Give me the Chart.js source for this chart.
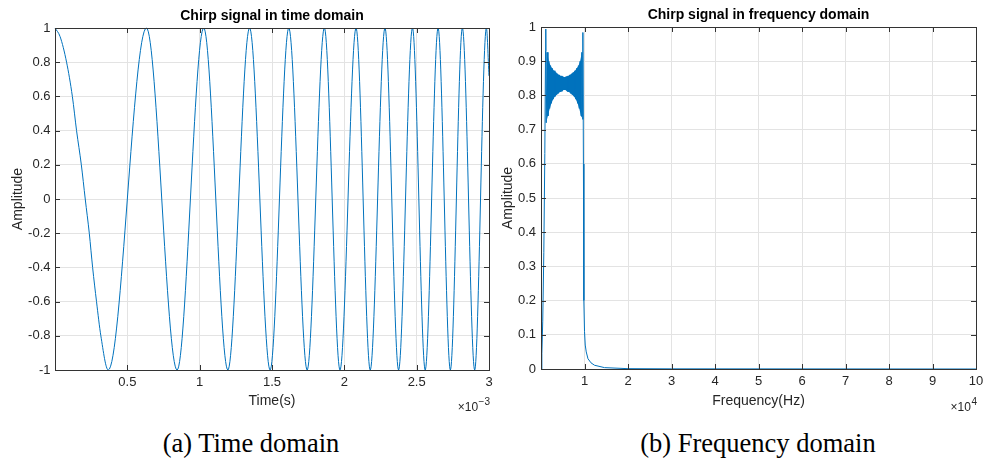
<!DOCTYPE html>
<html>
<head>
<meta charset="utf-8">
<script src="https://cdn.jsdelivr.net/npm/chart.js@4.4.0/dist/chart.umd.min.js"></script>
<style>
  html, body { margin: 0; padding: 0; background: #fff; }
  body { width: 987px; height: 460px; position: relative; overflow: hidden; }
  canvas { position: absolute; top: 0; }
  #timeChart { left: 0; }
  #freqChart { left: 493px; }
  .caption {
    position: absolute; top: 431px; line-height: 25px;
    font-family: 'Liberation Serif', 'Times New Roman', serif; font-size: 26.5px;
    color: #000; white-space: nowrap; transform: translateX(-50%);
  }
</style>
</head>
<body>
<canvas id="timeChart" width="493" height="420"></canvas>
<canvas id="freqChart" width="494" height="420"></canvas>
<div class="caption" style="left:251px">(a) Time domain</div>
<div class="caption" style="left:758px">(b) Frequency domain</div>
<script>
// time domain: first half cycle plus every max/min (time in ms)
const timeMs = [0, 0.035, 0.08, 0.12, 0.149, 0.182, 0.209, 0.237, 0.26, 0.287, 0.317, 0.368,
    0.632, 0.844, 1.028, 1.195, 1.345, 1.487, 1.616, 1.743, 1.862, 1.970, 2.081, 2.179,
    2.281, 2.375, 2.471, 2.559, 2.648, 2.733, 2.816, 2.901, 2.982, 3.0];
const timeAmp = [1, 0.95, 0.8, 0.6, 0.4, 0.2, 0, -0.2, -0.4, -0.6, -0.8, -1,
    1, -1, 1, -1, 1, -1, 1, -1, 1, -1, 1, -1,
    1, -1, 1, -1, 1, -1, 1, -1, 1, 0.72];

// frequency domain, frequency in units of 1e4 Hz
const riseFreq = [0, 0.02, 0.04, 0.065, 0.088, 0.104, 0.11];
const riseAmp = [0, 0.045, 0.14, 0.34, 0.63, 0.93, 0.994];
// the ripple band, alternating lower / upper envelope
const bandFreq = [0.12, 0.14, 0.16, 0.18, 0.20, 0.22, 0.24, 0.26, 0.28, 0.30, 0.32, 0.34, 0.36, 0.38,
    0.40, 0.42, 0.44, 0.46, 0.48, 0.50, 0.52, 0.54, 0.56, 0.58, 0.60, 0.62, 0.64, 0.66, 0.68,
    0.70, 0.72, 0.74, 0.76, 0.78, 0.80, 0.82, 0.84, 0.86, 0.88, 0.90, 0.92, 0.94, 0.96];
const bandAmp = [0.72, 0.926, 0.74, 0.90, 0.762, 0.887, 0.777, 0.879, 0.789, 0.872, 0.797, 0.867, 0.802, 0.863,
    0.806, 0.860, 0.810, 0.857, 0.812, 0.855, 0.816, 0.853, 0.816, 0.855, 0.812, 0.857, 0.810, 0.860, 0.806,
    0.863, 0.802, 0.867, 0.797, 0.872, 0.789, 0.879, 0.777, 0.887, 0.762, 0.90, 0.74, 0.926, 0.73];
const fallFreq = [0.963, 0.975, 0.985, 1.0, 1.017, 1.04, 1.08, 1.15, 1.23, 1.46, 2.0, 3.0, 10];
const fallAmp = [0.984, 0.6, 0.2, 0.11, 0.07, 0.05, 0.03, 0.018, 0.011, 0.004, 0.001, 0.0005, 0];

const LINE = '#0072BD';
const TXT = '#262626';
const GRID = '#e3e3e3';
const SANS = "'Liberation Sans', Arial, Helvetica, sans-serif";

Chart.defaults.font.family = SANS;

function fmt(v) {
    const r = Math.round(v * 10) / 10;
    return r === 0 ? '0' : String(r);
}

// box, inward ticks, bold title and the x10^n multiplier, MATLAB style
const matlabAxes = {
    id: 'matlabAxes',
    afterDraw(chart, args, opts) {
        const { ctx, chartArea: a, scales } = chart;
        ctx.save();
        ctx.strokeStyle = '#333';
        ctx.lineWidth = 1;
        ctx.beginPath();
        scales.x.ticks.forEach(t => {
            const px = Math.round(scales.x.getPixelForValue(t.value)) + 0.5;
            ctx.moveTo(px, a.bottom); ctx.lineTo(px, a.bottom - 5);
            ctx.moveTo(px, a.top); ctx.lineTo(px, a.top + 5);
        });
        scales.y.ticks.forEach(t => {
            const py = Math.round(scales.y.getPixelForValue(t.value)) + 0.5;
            ctx.moveTo(a.left, py); ctx.lineTo(a.left + 5, py);
            ctx.moveTo(a.right, py); ctx.lineTo(a.right - 5, py);
        });
        ctx.stroke();
        ctx.strokeRect(Math.round(a.left) + 0.5, Math.round(a.top) + 0.5,
            Math.round(a.width), Math.round(a.height));

        ctx.fillStyle = '#000';
        ctx.font = 'bold 14px ' + SANS;
        ctx.textAlign = 'center';
        ctx.textBaseline = 'middle';
        ctx.fillText(opts.title, (a.left + a.right) / 2, opts.titleY);

        ctx.fillStyle = TXT;
        ctx.textAlign = 'right';
        ctx.textBaseline = 'alphabetic';
        ctx.font = '10px ' + SANS;
        const supW = ctx.measureText(opts.exponent).width;
        ctx.fillText(opts.exponent, a.right + 1, opts.expY - 6);
        ctx.font = '12px ' + SANS;
        ctx.fillText('\u00d710', a.right + 0.5 - supW, opts.expY);
        ctx.restore();
    }
};

function axisFont(size) {
    return { family: SANS, size: size };
}

function noSidePadding(s) {
    s.paddingLeft = 0;
    s.paddingRight = 0;
}

new Chart(document.getElementById('timeChart'), {
    type: 'line',
    data: {
        datasets: [{
            data: timeMs.map((t, i) => ({ x: t, y: timeAmp[i] })),
            borderColor: LINE,
            borderWidth: 1,
            pointRadius: 0,
            cubicInterpolationMode: 'monotone',
            clip: 2
        }]
    },
    options: {
        responsive: false,
        animation: false,
        layout: { padding: { top: 28, right: 4, left: 0, bottom: 0 } },
        plugins: {
            legend: { display: false },
            tooltip: { enabled: false },
            matlabAxes: { title: 'Chirp signal in time domain', titleY: 16.5, exponent: '\u22123', expY: 410.5 }
        },
        scales: {
            x: {
                type: 'linear', min: 0, max: 3,
                afterFit: s => { s.height = 50; noSidePadding(s); },
                ticks: { stepSize: 0.5, padding: 5, color: TXT, font: axisFont(13), maxRotation: 0, autoSkip: false,
                    callback: v => v === 0 ? '' : fmt(v) },
                grid: { color: GRID, drawTicks: false },
                border: { display: false },
                title: { display: true, text: 'Time(s)', color: TXT, font: axisFont(14), padding: { top: 0, bottom: 10 } }
            },
            y: {
                min: -1, max: 1,
                afterFit: s => { s.width = 55; },
                ticks: { stepSize: 0.2, padding: 4.5, color: TXT, font: axisFont(13), callback: v => fmt(v) },
                grid: { color: GRID, drawTicks: false },
                border: { display: false },
                title: { display: true, text: 'Amplitude', color: TXT, font: axisFont(14), padding: { top: 9.4, bottom: 0 } }
            }
        }
    },
    plugins: [matlabAxes]
});

const specFreq = riseFreq.concat(bandFreq, fallFreq);
const specAmp = riseAmp.concat(bandAmp, fallAmp);
const bandPts = bandFreq.map((f, i) => ({ x: f, y: bandAmp[i] }));

new Chart(document.getElementById('freqChart'), {
    type: 'line',
    data: {
        datasets: [
            {
                data: specFreq.map((f, i) => ({ x: f, y: specAmp[i] })),
                borderColor: LINE,
                borderWidth: 1,
                pointRadius: 0,
                tension: 0,
                clip: 2
            },
            {
                // upper envelope of the ripple, filled down to the lower one
                data: bandPts.filter((p, i) => i % 2 === 1),
                borderWidth: 0,
                pointRadius: 0,
                backgroundColor: LINE,
                fill: '+1'
            },
            {
                data: bandPts.filter((p, i) => i % 2 === 0),
                borderWidth: 0,
                pointRadius: 0,
                fill: false
            }
        ]
    },
    options: {
        responsive: false,
        animation: false,
        layout: { padding: { top: 27, right: 11, left: 0, bottom: 0 } },
        plugins: {
            legend: { display: false },
            tooltip: { enabled: false },
            matlabAxes: { title: 'Chirp signal in frequency domain', titleY: 15.5, exponent: '4', expY: 411 }
        },
        scales: {
            x: {
                type: 'linear', min: 0, max: 10,
                afterFit: s => { s.height = 51; noSidePadding(s); },
                ticks: { stepSize: 1, padding: 5, color: TXT, font: axisFont(13), maxRotation: 0, autoSkip: false,
                    callback: v => v === 0 ? '' : String(v) },
                grid: { color: GRID, drawTicks: false },
                border: { display: false },
                title: { display: true, text: 'Frequency(Hz)', color: TXT, font: axisFont(14), padding: { top: 0, bottom: 10 } }
            },
            y: {
                min: 0, max: 1,
                afterFit: s => { s.width = 48; },
                ticks: { stepSize: 0.1, padding: 5, color: TXT, font: axisFont(13), callback: v => fmt(v) },
                grid: { color: GRID, drawTicks: false },
                border: { display: false },
                title: { display: true, text: 'Amplitude', color: TXT, font: axisFont(14), padding: { top: 6.6, bottom: 0 } }
            }
        }
    },
    plugins: [matlabAxes]
});
</script>
</body>
</html>
